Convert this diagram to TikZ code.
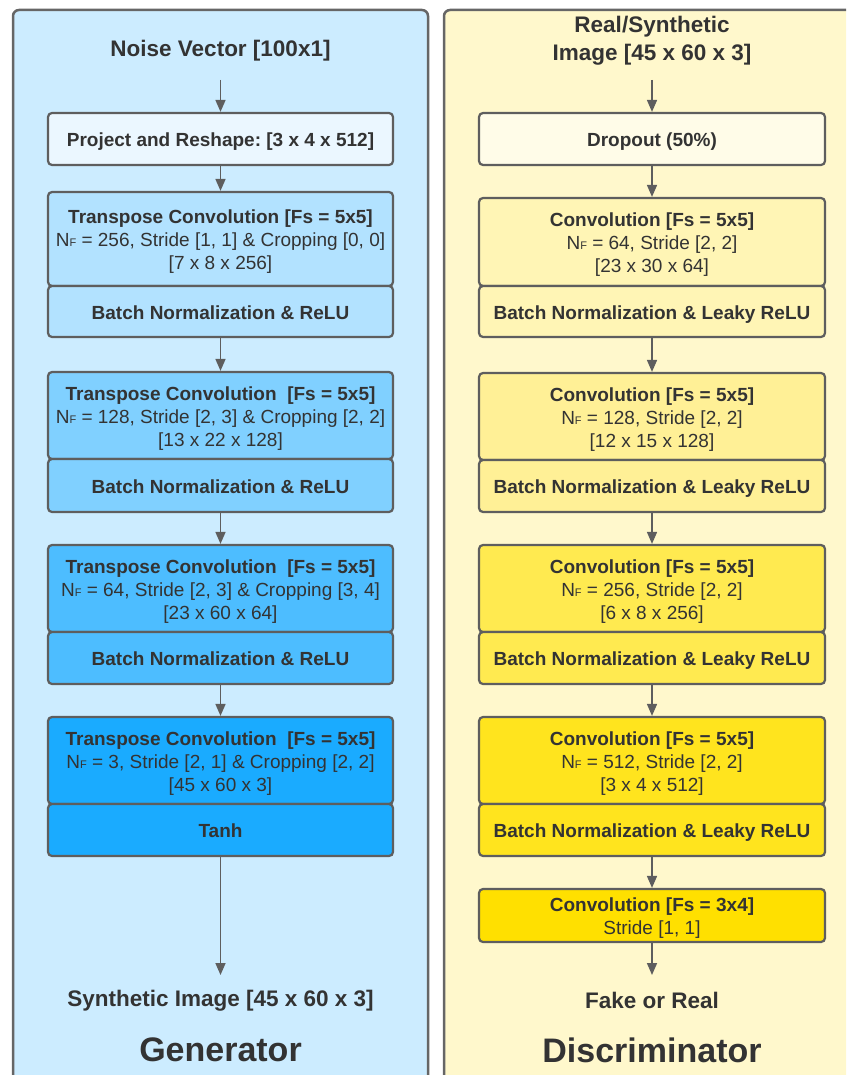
\documentclass[tikz,border=0pt]{standalone}
\usepackage{fontspec}
\setmainfont{Liberation Sans}
\usetikzlibrary{arrows.meta}
\definecolor{gbg}{RGB}{204,236,255}
\definecolor{dbg}{RGB}{255,248,204}
\definecolor{lc}{RGB}{94,94,94}
\definecolor{pc}{RGB}{102,102,102}
\definecolor{tc}{RGB}{51,51,51}
\definecolor{g0}{RGB}{235,247,255}
\definecolor{g1}{RGB}{178,226,255}
\definecolor{g2}{RGB}{128,208,255}
\definecolor{g3}{RGB}{77,189,255}
\definecolor{g4}{RGB}{26,171,255}
\definecolor{y0}{RGB}{255,252,232}
\definecolor{y1}{RGB}{255,245,181}
\definecolor{y2}{RGB}{255,240,150}
\definecolor{y3}{RGB}{255,234,80}
\definecolor{y4}{RGB}{255,228,30}
\definecolor{y5}{RGB}{255,224,0}
\newcommand{\NF}{N{\fontsize{11}{11}\selectfont F}}
\newcommand{\tb}[1]{\raisebox{-3pt}[\height][\depth]{\begin{tabular}{@{}c@{}}#1\end{tabular}}}
\frenchspacing
\begin{document}
\begin{tikzpicture}[x=1pt,y=-1pt,
  panel/.style={draw=pc, line width=2.5pt, rounded corners=6pt},
  blk/.style={draw=lc, line width=2.2pt, rounded corners=4pt, inner sep=0pt, text=tc, align=center, font=\frenchspacing\fontsize{19}{23}\selectfont, minimum width=345pt},
  arr/.style={draw=lc, line width=1.6pt, -{Triangle[length=12pt,width=10pt]}},
  ttl/.style={text=tc, font=\frenchspacing\bfseries\fontsize{22.5}{28}\selectfont, align=center, inner sep=0pt},
  big/.style={text=tc, font=\bfseries\fontsize{34}{40}\selectfont, inner sep=0pt}]
\useasboundingbox (0,0) rectangle (846,1075);
\clip (0,0) rectangle (846,1075);
% panels
\draw[panel, fill=gbg] (13,10) rectangle (428,1100);
\draw[panel, fill=dbg] (444,10) rectangle (870,1100);

% ---------------- Generator ----------------
\node[ttl] (gtitle) at (220.5,50.5) {Noise Vector [100x1]};
\coordinate (gin) at (220.5,80);
\node[blk, fill=g0, minimum height=52pt] (proj) at (220.5,139) {\tb{\textbf{Project and Reshape: [3 x 4 x 512]}}};
\node[blk, fill=g1, minimum height=94pt] (g1c) at (220.5,239) {\tb{\textbf{Transpose Convolution [Fs = 5x5]}\\ \NF{} = 256, Stride [1, 1] \& Cropping [0, 0]\\ {[7 x 8 x 256]}}};
\node[blk, fill=g1, minimum height=51pt] (g1b) at (220.5,311.5) {\tb{\textbf{Batch Normalization \& ReLU}}};
\node[blk, fill=g2, minimum height=87pt] (g2c) at (220.5,415.5) {\tb{\textbf{Transpose Convolution\ \ [Fs = 5x5]}\\ \NF{} = 128, Stride [2, 3] \& Cropping [2, 2]\\ {[13 x 22 x 128]}}};
\node[blk, fill=g2, minimum height=53pt] (g2b) at (220.5,485.5) {\tb{\textbf{Batch Normalization \& ReLU}}};
\node[blk, fill=g3, minimum height=87pt] (g3c) at (220.5,588.5) {\tb{\textbf{Transpose Convolution\ \ [Fs = 5x5]}\\ \NF{} = 64, Stride [2, 3] \& Cropping [3, 4]\\ {[23 x 60 x 64]}}};
\node[blk, fill=g3, minimum height=52pt] (g3b) at (220.5,658) {\tb{\textbf{Batch Normalization \& ReLU}}};
\node[blk, fill=g4, minimum height=87pt] (g4c) at (220.5,760.5) {\tb{\textbf{Transpose Convolution\ \ [Fs = 5x5]}\\ \NF{} = 3, Stride [2, 1] \& Cropping [2, 2]\\ {[45 x 60 x 3]}}};
\node[blk, fill=g4, minimum height=52pt] (g4b) at (220.5,830) {\tb{\textbf{Tanh}}};
\coordinate (gend) at (220.5,975);
\node[ttl] (gout) at (220.5,1000.5) {Synthetic Image [45 x 60 x 3]};
\node[big] (glabel) at (220.5,1050) {Generator};

\draw[arr] (gin) -- (proj.north);
\draw[arr] (proj.south) -- (g1c.north);
\draw[arr] (g1b.south) -- (g2c.north);
\draw[arr] (g2b.south) -- (g3c.north);
\draw[arr] (g3b.south) -- (g4c.north);
\draw[arr] (g4b.south) -- (gend);

% ---------------- Discriminator ----------------
\node[ttl] (dtitle) at (652,40.5) {Real/Synthetic\\Image [45 x 60 x 3]};
\coordinate (din) at (652,80);
\node[blk, fill=y0, minimum height=52pt, minimum width=346pt] (drop) at (652,139) {\tb{\textbf{Dropout (50\%)}}};
\node[blk, fill=y1, minimum height=88pt, minimum width=346pt] (d1c) at (652,242) {\tb{\textbf{Convolution [Fs = 5x5]}\\ \NF{} = 64, Stride [2, 2]\\ {[23 x 30 x 64]}}};
\node[blk, fill=y1, minimum height=51pt, minimum width=346pt] (d1b) at (652,311.5) {\tb{\textbf{Batch Normalization \& Leaky ReLU}}};
\node[blk, fill=y2, minimum height=87pt, minimum width=346pt] (d2c) at (652,416.5) {\tb{\textbf{Convolution [Fs = 5x5]}\\ \NF{} = 128, Stride [2, 2]\\ {[12 x 15 x 128]}}};
\node[blk, fill=y2, minimum height=52pt, minimum width=346pt] (d2b) at (652,486) {\tb{\textbf{Batch Normalization \& Leaky ReLU}}};
\node[blk, fill=y3, minimum height=87pt, minimum width=346pt] (d3c) at (652,588.5) {\tb{\textbf{Convolution [Fs = 5x5]}\\ \NF{} = 256, Stride [2, 2]\\ {[6 x 8 x 256]}}};
\node[blk, fill=y3, minimum height=52pt, minimum width=346pt] (d3b) at (652,658) {\tb{\textbf{Batch Normalization \& Leaky ReLU}}};
\node[blk, fill=y4, minimum height=87pt, minimum width=346pt] (d4c) at (652,760.5) {\tb{\textbf{Convolution [Fs = 5x5]}\\ \NF{} = 512, Stride [2, 2]\\ {[3 x 4 x 512]}}};
\node[blk, fill=y4, minimum height=52pt, minimum width=346pt] (d4b) at (652,830) {\tb{\textbf{Batch Normalization \& Leaky ReLU}}};
\node[blk, fill=y5, minimum height=53pt, minimum width=346pt] (d5) at (652,915.5) {\tb{\textbf{Convolution [Fs = 3x4]}\\ Stride [1, 1]}};
\coordinate (dend) at (652,975);
\node[ttl] (dout) at (652,1000.5) {Fake or Real};
\node[big] (dlabel) at (652,1050) {Discriminator};

\draw[arr] (din) -- (drop.north);
\draw[arr] (drop.south) -- (d1c.north);
\draw[arr] (d1b.south) -- (d2c.north);
\draw[arr] (d2b.south) -- (d3c.north);
\draw[arr] (d3b.south) -- (d4c.north);
\draw[arr] (d4b.south) -- (d5.north);
\draw[arr] (d5.south) -- (dend);
\end{tikzpicture}
\end{document}
